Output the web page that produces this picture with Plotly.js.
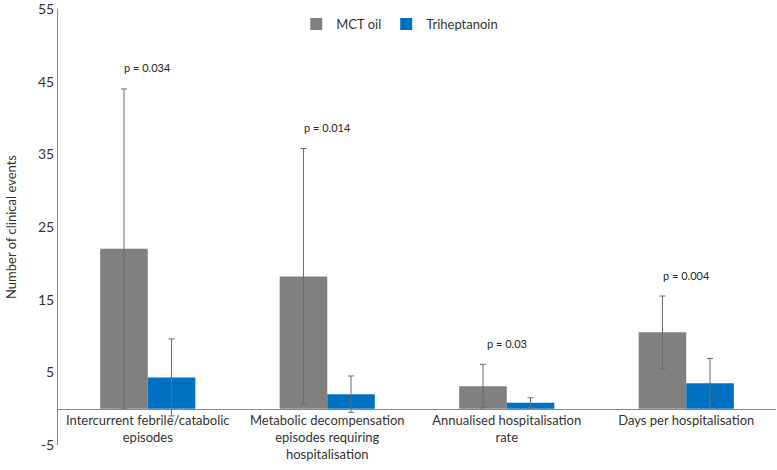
<!DOCTYPE html>
<html>
<head>
<meta charset="utf-8">
<script src="https://cdn.plot.ly/plotly-3.0.1.min.js"></script>
<style>
  html, body { margin: 0; padding: 0; background: #fff; }
  #graph { width: 777px; height: 470px; }
</style>
</head>
<body>
<div id="graph"></div>
<script>
// values
var categories = [
    'Intercurrent febrile/catabolic<br>episodes',
    'Metabolic decompensation<br>episodes requiring<br>hospitalisation',
    'Annualised hospitalisation<br>rate',
    'Days per hospitalisation'
];
var mctValues = [22, 18.2, 3.1, 10.5];
var mctErrors = [22, 17.6, 3, 5];
var triValues = [4.3, 2, 0.8, 3.5];
var triErrors = [5.3, 2.5, 0.7, 3.4];
var pValues = ['p = 0.034', 'p = 0.014', 'p = 0.03', 'p = 0.004'];
var yTicks = [-5, 5, 15, 25, 35, 45, 55];
var yTickText = ['-5', '5', '15', '25', '35', '45', '55'];

var fontFamily = 'Lato, "Open Sans", sans-serif';
var yMin = -5, yMax = 55;

var mct = {
    x: categories,
    y: mctValues,
    name: 'MCT oil',
    type: 'bar',
    marker: { color: '#808080' },
    error_y: { type: 'data', array: mctErrors, visible: true, color: '#6b6b6b', thickness: 1, width: 3 }
};

var tri = {
    x: categories,
    y: triValues,
    name: 'Triheptanoin',
    type: 'bar',
    marker: { color: '#0070c0' },
    error_y: { type: 'data', array: triErrors, visible: true, color: '#6b6b6b', thickness: 1, width: 3 }
};

var notes = [];
for (var i = 0; i < categories.length; i++) {
    notes.push({
        x: categories[i],
        y: mctValues[i] + mctErrors[i],
        xref: 'x',
        yref: 'y',
        text: pValues[i],
        showarrow: false,
        yshift: 21,
        font: { size: 11, color: '#262626', family: fontFamily }
    });
}

var frame = {
    width: 777,
    height: 470,
    margin: { l: 58, r: 1, t: 9, b: 25 },
    paper_bgcolor: '#ffffff',
    plot_bgcolor: '#ffffff',
    font: { family: fontFamily, color: '#333333', size: 13 },
    barmode: 'group',
    bargap: 0.47,
    bargroupgap: 0,
    showlegend: true,
    legend: {
        orientation: 'h',
        x: 0.476,
        xanchor: 'center',
        y: 1.0,
        yanchor: 'top',
        bgcolor: 'rgba(0,0,0,0)',
        font: { size: 13, color: '#333333' },
        itemwidth: 30
    },
    xaxis: {
        anchor: 'free',
        position: (0 - yMin) / (yMax - yMin),
        showline: true,
        linecolor: '#868686',
        linewidth: 1,
        showgrid: false,
        ticks: '',
        ticklabeloverflow: 'allow',
        tickfont: { size: 13, color: '#333333' }
    },
    yaxis: {
        range: [yMin, yMax],
        tickmode: 'array',
        tickvals: yTicks,
        ticktext: yTickText,
        showline: true,
        linecolor: '#868686',
        linewidth: 1,
        showgrid: false,
        zeroline: false,
        ticks: '',
        ticklabeloverflow: 'allow',
        tickfont: { size: 14, color: '#333333' },
        title: { text: 'Number of clinical events', font: { size: 13, color: '#333333' }, standoff: 18 }
    },
    annotations: notes
};

Plotly.newPlot('graph', [mct, tri], frame, { displayModeBar: false });
</script>
</body>
</html>
